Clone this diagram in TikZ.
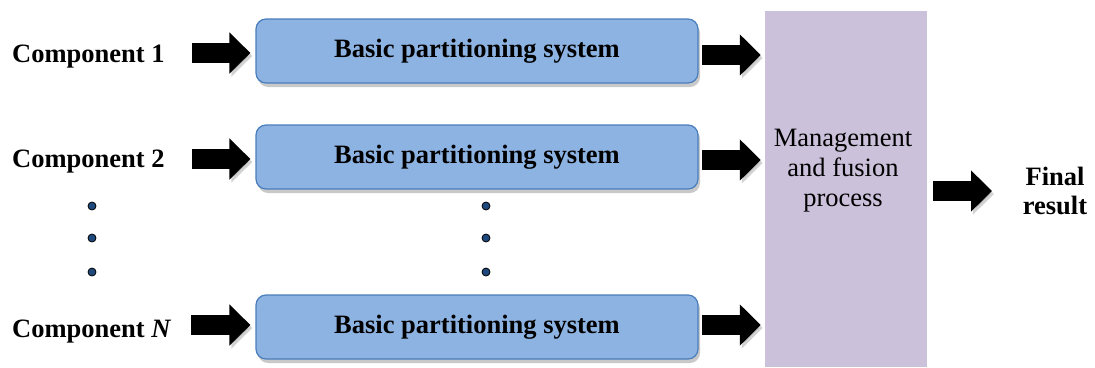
\documentclass[tikz,border=0pt]{standalone}
\usepackage{fontspec}
\setmainfont{Liberation Serif}
\usetikzlibrary{arrows.meta,shadows}
\definecolor{boxfill}{HTML}{8DB3E2}
\definecolor{boxline}{HTML}{4A7EBB}
\definecolor{mgmt}{HTML}{CCC1DA}
\definecolor{dotfill}{HTML}{1F497D}
\newcommand{\lblsize}{\fontsize{26.5}{30}\selectfont}
\begin{document}
\begin{tikzpicture}[x=1pt,y=-1pt,
  partbox/.style={draw=boxline, line width=1.2pt, fill=boxfill, rounded corners=10pt,
    minimum width=442pt, minimum height=64pt, inner sep=0pt,
    font=\bfseries\lblsize,
    drop shadow={shadow xshift=2pt, shadow yshift=-4pt, opacity=0.3, fill=black!70}},
  mgmtbox/.style={fill=mgmt, draw=none, minimum width=162pt, minimum height=356pt, inner sep=0pt},
  lbl/.style={font=\bfseries\lblsize, inner sep=0pt},
  mtext/.style={font=\lblsize, inner sep=0pt, align=center},
  dotn/.style={circle, fill=dotfill, draw=black, line width=0.8pt, minimum size=8pt, inner sep=0pt},
  blockarrow/.style={line width=20pt, -{Triangle[length=21pt,width=40pt]},
    preaction={draw=black!50, opacity=0.35, -{Triangle[length=21pt,width=40pt]},
      transform canvas={shift={(2pt,-3pt)}}}}
]
\useasboundingbox (0,0) rectangle (1095,367);

% management and fusion block
\node[mgmtbox] (m) at (846,189) {};
\node[mtext] (mt) at (843,171) {Management\\and fusion\\process};

% partitioning boxes
\node[partbox] (b1) at (477,51) {Basic partitioning system};
\node[partbox] (b2) at (477,157) {Basic partitioning system};
\node[partbox] (b3) at (477,327) {Basic partitioning system};

% component labels
\node[lbl, anchor=base west] (c1) at (12,62) {Component 1};
\node[lbl, anchor=base west] (c2) at (12,167) {Component 2};
\node[lbl, anchor=base west] (cN) at (12,337) {Component \textit{N}};

% final result
\node[lbl, align=center, font=\bfseries\fontsize{26.5}{29}\selectfont] (f) at (1055,191) {Final\\result};

% dots
\node[dotn] (dl1) at (92,206) {};
\node[dotn] (dl2) at (92,238) {};
\node[dotn] (dl3) at (92,272) {};
\node[dotn] (dr1) at (486,206) {};
\node[dotn] (dr2) at (486,238) {};
\node[dotn] (dr3) at (486,272) {};

% arrow start points
\coordinate (s1) at (192,53);
\coordinate (s2) at (192,159);
\coordinate (s3) at (191,325);
\coordinate (o1) at (702,55);
\coordinate (o2) at (702,160);
\coordinate (o3) at (702,325);
\coordinate (fa) at (933,191);

% input arrows
\draw[blockarrow, shorten >=5pt] (s1) -- (s1 -| b1.west);
\draw[blockarrow, shorten >=5pt] (s2) -- (s2 -| b2.west);
\draw[blockarrow, shorten >=5pt] (s3) -- (s3 -| b3.west);
% output arrows
\draw[blockarrow, shorten >=4pt] (o1) -- (o1 -| m.west);
\draw[blockarrow, shorten >=4pt] (o2) -- (o2 -| m.west);
\draw[blockarrow, shorten >=4pt] (o3) -- (o3 -| m.west);
% final arrow
\draw[blockarrow] (fa) -- (992,191);
\end{tikzpicture}
\end{document}
